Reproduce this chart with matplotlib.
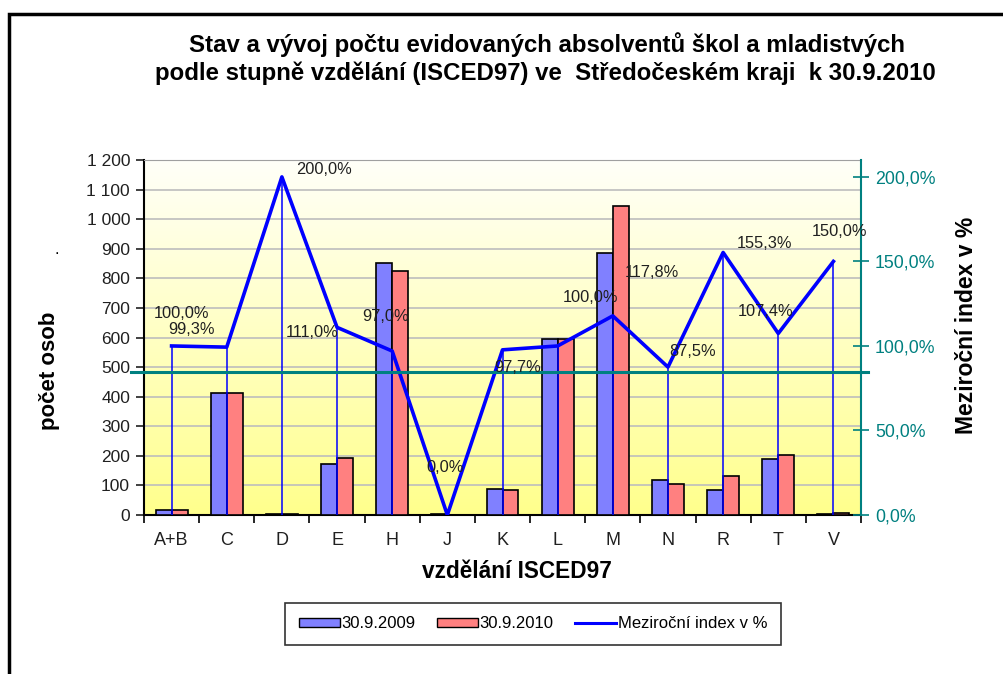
import numpy as np
import matplotlib
matplotlib.use("Agg")
import matplotlib.pyplot as plt
from matplotlib.patches import Patch, Rectangle
from matplotlib.lines import Line2D
from matplotlib.ticker import FuncFormatter, FixedLocator

plt.rcParams["font.family"] = ["Liberation Sans", "DejaVu Sans"]

# data
categories = ["A+B", "C", "D", "E", "H", "J", "K", "L", "M", "N", "R", "T", "V"]
count_2009 = [16, 414, 2, 172, 851, 3, 87, 596, 886, 120, 85, 190, 4]
count_2010 = [16, 411, 4, 191, 826, 0, 85, 596, 1044, 105, 132, 204, 6]
index_pct = [100.0, 99.3, 200.0, 111.0, 97.0, 0.0, 97.7, 100.0, 117.8, 87.5, 155.3, 107.4, 150.0]
ref_level = 84.3  # teal horizontal line, right axis

# label offsets in pixels (manually placed labels in the original)
label_offsets = [(10, 32), (-35, 18), (42, 7), (-25, -5), (-7, 35), (-2, 48), (15, -18),
                 (33, 48), (39, 43), (25, 16), (41, 9), (-13, 22), (6, 30)]

BLUE_BAR = "#8080FF"
RED_BAR = "#FF8080"
LINE = "#0000FF"
TEAL = "#008080"


def cz_thousands(v, pos):
    return f"{int(round(v)):,}".replace(",", " ")


def cz_pct(v, pos):
    return f"{v:.1f}%".replace(".", ",")


fig = plt.figure(figsize=(10.04, 6.74), dpi=100)
fig.patch.set_facecolor("white")

# outer frame (cropped on the right and bottom)
fig.patches.append(Rectangle((9 / 1004, -0.05), 1.1, 1.05 - 14 / 674,
                             transform=fig.transFigure, fill=False,
                             edgecolor="black", linewidth=2.5, clip_on=False))

ax = fig.add_axes([144 / 1004, 1 - 515 / 674, 717 / 1004, 355 / 674])
ax2 = ax.twinx()

x = np.arange(len(categories))
w = 0.29

# background gradient
grad = np.linspace(0, 1, 256).reshape(-1, 1)
top = np.array([1.0, 1.0, 0.975])
bot = np.array([1.0, 1.0, 0.55])
img = top + (bot - top) * grad[:, :, None] * np.ones((1, 1, 3))
ax.imshow(img, extent=[0, 1, 0, 1], transform=ax.transAxes, aspect="auto",
          zorder=0, origin="upper")

ax.bar(x - w / 2, count_2009, w, color=BLUE_BAR, edgecolor="black", linewidth=1.2, zorder=3)
ax.bar(x + w / 2, count_2010, w, color=RED_BAR, edgecolor="black", linewidth=1.2, zorder=3)

ax.set_xlim(-0.5, len(categories) - 0.5)
ax.set_ylim(0, 1200)
ax.set_yticks(np.arange(0, 1201, 100))
ax.yaxis.set_major_formatter(FuncFormatter(cz_thousands))
ax.grid(axis="y", color="#BDBDBD", linewidth=1.2, zorder=1)
ax.set_axisbelow(True)

ax.set_xticks(x)
ax.set_xticklabels(categories)
ax.xaxis.set_minor_locator(FixedLocator(np.arange(-0.5, len(categories), 1)))
ax.tick_params(axis="x", which="major", length=0, pad=12, labelsize=13, colors="#202020")
ax.tick_params(axis="x", which="minor", length=6, width=1.2, direction="out", color="black")
ax.tick_params(axis="y", length=6, width=1.2, direction="out", labelsize=12.5, colors="#202020", pad=4)

ax.spines["top"].set_color("#A0A0A0")
ax.spines["left"].set_linewidth(1.5)
ax.spines["bottom"].set_linewidth(1.5)
ax.spines["right"].set_visible(False)

# secondary axis: index line
ax2.set_ylim(0, 210)
ax2.set_yticks([0, 50, 100, 150, 200])
ax2.yaxis.set_major_formatter(FuncFormatter(cz_pct))
ax2.tick_params(axis="y", direction="inout", length=12, width=1.2, color=TEAL,
                labelcolor=TEAL, labelsize=12.8, pad=4)
ax2.spines["right"].set_color(TEAL)
ax2.spines["right"].set_linewidth(1.5)
for s in ["top", "left", "bottom"]:
    ax2.spines[s].set_visible(False)

ax2.vlines(x, 0, index_pct, color=LINE, linewidth=1.1, zorder=4)
ax2.plot(x, index_pct, color=LINE, linewidth=2.6, zorder=5)
ax2.plot([-0.74, 12.63], [ref_level, ref_level], color=TEAL, linewidth=2.2,
         clip_on=False, zorder=6)

for xi, v, (dx, dy) in zip(x, index_pct, label_offsets):
    ax2.annotate(f"{v:.1f}%".replace(".", ","), (xi, v), xytext=(dx, dy),
                 textcoords="offset pixels", ha="center", va="center",
                 fontsize=11.8, color="#202020", zorder=7)

# titles and axis labels
fig.text(547 / 1004, 1 - 45 / 674, "Stav a vývoj počtu evidovaných absolventů škol a mladistvých",
         ha="center", va="center", fontsize=17.3, fontweight="bold")
fig.text(545 / 1004, 1 - 73 / 674, "podle stupně vzdělání (ISCED97) ve  Středočeském kraji  k 30.9.2010",
         ha="center", va="center", fontsize=17.3, fontweight="bold")
fig.text(50 / 1004, 1 - 371 / 674, "počet osob", rotation=90, ha="center", va="center",
         fontsize=16, fontweight="bold")
fig.text(57 / 1004, 1 - 250 / 674, ".", ha="center", va="center", fontsize=12)
fig.text(967 / 1004, 1 - 325 / 674, "Meziroční index v %", rotation=90, ha="center", va="center",
         fontsize=16.5, fontweight="bold")
fig.text(517 / 1004, 1 - 572 / 674, "vzdělání ISCED97", ha="center", va="center",
         fontsize=16.3, fontweight="bold")

handles = [Patch(facecolor=BLUE_BAR, edgecolor="black", label="30.9.2009"),
           Patch(facecolor=RED_BAR, edgecolor="black", label="30.9.2010"),
           Line2D([], [], color=LINE, linewidth=2.2, label="Meziroční index v %")]
leg = fig.legend(handles=handles, loc="center", bbox_to_anchor=(533 / 1004, 1 - 624 / 674),
                 ncol=3, fontsize=12, frameon=True, fancybox=False, edgecolor="black",
                 handlelength=2.45, handleheight=0.5, columnspacing=1.3, handletextpad=0.1,
                 borderpad=0.8)
leg.get_frame().set_linewidth(1.2)

fig.savefig("out.png", dpi=100, facecolor="white")
